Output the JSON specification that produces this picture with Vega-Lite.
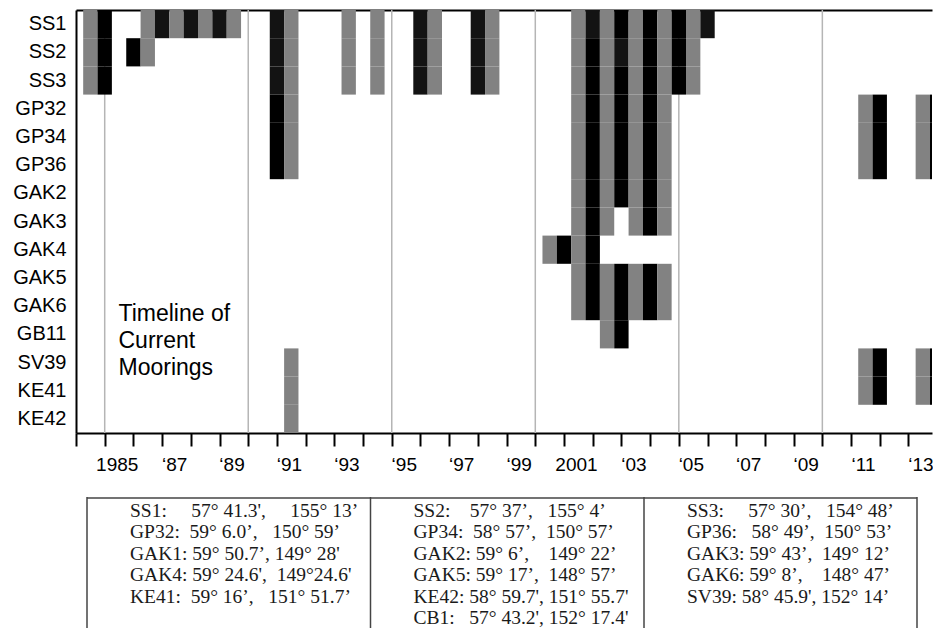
{
  "$schema": "https://vega.github.io/schema/vega-lite/v6.json",
  "padding": {"left": 12, "top": 9, "right": 0, "bottom": 0},
  "background": "white",
  "config": {"view": {"stroke": null}, "axis": {"grid": false}},
  "bounds": "flush",
  "spacing": 64,
  "vconcat": [
    {
      "width": 856,
      "height": 423,
      "layer": [
        {
          "data": {"values": [{"yr": 1985}, {"yr": 1990}, {"yr": 1995}, {"yr": 2000}, {"yr": 2005}, {"yr": 2010}]},
          "mark": {"type": "rule", "color": "#b5b5b5", "strokeWidth": 1.5},
          "encoding": {
            "x": {
              "field": "yr", "type": "quantitative",
              "scale": {"domain": [1984, 2013.82], "nice": false, "zero": false},
              "axis": {"orient": "top", "labels": false, "ticks": false, "domain": true, "domainColor": "#000", "domainWidth": 2, "title": null, "grid": false}
            }
          }
        },
        {
          "data": {"values": [
            {"m": "SS1", "s": 1984.25, "e": 1984.75, "c": "g"},
            {"m": "SS1", "s": 1984.75, "e": 1985.25, "c": "k"},
            {"m": "SS1", "s": 1986.25, "e": 1986.75, "c": "g"},
            {"m": "SS1", "s": 1986.75, "e": 1987.25, "c": "d"},
            {"m": "SS1", "s": 1987.25, "e": 1987.75, "c": "g"},
            {"m": "SS1", "s": 1987.75, "e": 1988.25, "c": "d"},
            {"m": "SS1", "s": 1988.25, "e": 1988.75, "c": "g"},
            {"m": "SS1", "s": 1988.75, "e": 1989.25, "c": "d"},
            {"m": "SS1", "s": 1989.25, "e": 1989.75, "c": "g"},
            {"m": "SS1", "s": 1990.75, "e": 1991.25, "c": "d"},
            {"m": "SS1", "s": 1991.25, "e": 1991.75, "c": "g"},
            {"m": "SS1", "s": 1993.25, "e": 1993.75, "c": "g"},
            {"m": "SS1", "s": 1994.25, "e": 1994.75, "c": "g"},
            {"m": "SS1", "s": 1995.75, "e": 1996.25, "c": "d"},
            {"m": "SS1", "s": 1996.25, "e": 1996.75, "c": "g"},
            {"m": "SS1", "s": 1997.75, "e": 1998.25, "c": "d"},
            {"m": "SS1", "s": 1998.25, "e": 1998.75, "c": "g"},
            {"m": "SS1", "s": 2001.25, "e": 2001.75, "c": "g"},
            {"m": "SS1", "s": 2001.75, "e": 2002.25, "c": "d"},
            {"m": "SS1", "s": 2002.25, "e": 2002.75, "c": "g"},
            {"m": "SS1", "s": 2002.75, "e": 2003.25, "c": "k"},
            {"m": "SS1", "s": 2003.25, "e": 2003.75, "c": "g"},
            {"m": "SS1", "s": 2003.75, "e": 2004.25, "c": "k"},
            {"m": "SS1", "s": 2004.25, "e": 2004.75, "c": "g"},
            {"m": "SS1", "s": 2004.75, "e": 2005.25, "c": "k"},
            {"m": "SS1", "s": 2005.25, "e": 2005.75, "c": "g"},
            {"m": "SS1", "s": 2005.75, "e": 2006.25, "c": "d"},

            {"m": "SS2", "s": 1984.25, "e": 1984.75, "c": "g"},
            {"m": "SS2", "s": 1984.75, "e": 1985.25, "c": "k"},
            {"m": "SS2", "s": 1985.75, "e": 1986.25, "c": "k"},
            {"m": "SS2", "s": 1986.25, "e": 1986.75, "c": "g"},
            {"m": "SS2", "s": 1990.75, "e": 1991.25, "c": "d"},
            {"m": "SS2", "s": 1991.25, "e": 1991.75, "c": "g"},
            {"m": "SS2", "s": 1993.25, "e": 1993.75, "c": "g"},
            {"m": "SS2", "s": 1994.25, "e": 1994.75, "c": "g"},
            {"m": "SS2", "s": 1995.75, "e": 1996.25, "c": "d"},
            {"m": "SS2", "s": 1996.25, "e": 1996.75, "c": "g"},
            {"m": "SS2", "s": 1997.75, "e": 1998.25, "c": "d"},
            {"m": "SS2", "s": 1998.25, "e": 1998.75, "c": "g"},
            {"m": "SS2", "s": 2001.25, "e": 2001.75, "c": "g"},
            {"m": "SS2", "s": 2001.75, "e": 2002.25, "c": "k"},
            {"m": "SS2", "s": 2002.25, "e": 2002.75, "c": "g"},
            {"m": "SS2", "s": 2002.75, "e": 2003.25, "c": "d"},
            {"m": "SS2", "s": 2003.25, "e": 2003.75, "c": "g"},
            {"m": "SS2", "s": 2003.75, "e": 2004.25, "c": "k"},
            {"m": "SS2", "s": 2004.25, "e": 2004.75, "c": "g"},
            {"m": "SS2", "s": 2004.75, "e": 2005.25, "c": "k"},
            {"m": "SS2", "s": 2005.25, "e": 2005.75, "c": "g"},

            {"m": "SS3", "s": 1984.25, "e": 1984.75, "c": "g"},
            {"m": "SS3", "s": 1984.75, "e": 1985.25, "c": "k"},
            {"m": "SS3", "s": 1990.75, "e": 1991.25, "c": "d"},
            {"m": "SS3", "s": 1991.25, "e": 1991.75, "c": "g"},
            {"m": "SS3", "s": 1993.25, "e": 1993.75, "c": "g"},
            {"m": "SS3", "s": 1994.25, "e": 1994.75, "c": "g"},
            {"m": "SS3", "s": 1995.75, "e": 1996.25, "c": "d"},
            {"m": "SS3", "s": 1996.25, "e": 1996.75, "c": "g"},
            {"m": "SS3", "s": 1997.75, "e": 1998.25, "c": "d"},
            {"m": "SS3", "s": 1998.25, "e": 1998.75, "c": "g"},
            {"m": "SS3", "s": 2001.25, "e": 2001.75, "c": "g"},
            {"m": "SS3", "s": 2001.75, "e": 2002.25, "c": "k"},
            {"m": "SS3", "s": 2002.25, "e": 2002.75, "c": "g"},
            {"m": "SS3", "s": 2002.75, "e": 2003.25, "c": "k"},
            {"m": "SS3", "s": 2003.25, "e": 2003.75, "c": "g"},
            {"m": "SS3", "s": 2003.75, "e": 2004.25, "c": "k"},
            {"m": "SS3", "s": 2004.25, "e": 2004.75, "c": "g"},
            {"m": "SS3", "s": 2004.75, "e": 2005.25, "c": "k"},
            {"m": "SS3", "s": 2005.25, "e": 2005.75, "c": "g"},

            {"m": "GP32", "s": 1990.75, "e": 1991.25, "c": "k"},
            {"m": "GP32", "s": 1991.25, "e": 1991.75, "c": "g"},
            {"m": "GP32", "s": 2001.25, "e": 2001.75, "c": "g"},
            {"m": "GP32", "s": 2001.75, "e": 2002.25, "c": "k"},
            {"m": "GP32", "s": 2002.25, "e": 2002.75, "c": "g"},
            {"m": "GP32", "s": 2002.75, "e": 2003.25, "c": "k"},
            {"m": "GP32", "s": 2003.25, "e": 2003.75, "c": "g"},
            {"m": "GP32", "s": 2003.75, "e": 2004.25, "c": "k"},
            {"m": "GP32", "s": 2004.25, "e": 2004.75, "c": "g"},
            {"m": "GP32", "s": 2011.25, "e": 2011.75, "c": "g"},
            {"m": "GP32", "s": 2011.75, "e": 2012.25, "c": "k"},
            {"m": "GP32", "s": 2013.25, "e": 2013.75, "c": "g"},
            {"m": "GP32", "s": 2013.75, "e": 2014.25, "c": "k"},

            {"m": "GP34", "s": 1990.75, "e": 1991.25, "c": "k"},
            {"m": "GP34", "s": 1991.25, "e": 1991.75, "c": "g"},
            {"m": "GP34", "s": 2001.25, "e": 2001.75, "c": "g"},
            {"m": "GP34", "s": 2001.75, "e": 2002.25, "c": "k"},
            {"m": "GP34", "s": 2002.25, "e": 2002.75, "c": "g"},
            {"m": "GP34", "s": 2002.75, "e": 2003.25, "c": "k"},
            {"m": "GP34", "s": 2003.25, "e": 2003.75, "c": "g"},
            {"m": "GP34", "s": 2003.75, "e": 2004.25, "c": "k"},
            {"m": "GP34", "s": 2004.25, "e": 2004.75, "c": "g"},
            {"m": "GP34", "s": 2011.25, "e": 2011.75, "c": "g"},
            {"m": "GP34", "s": 2011.75, "e": 2012.25, "c": "k"},
            {"m": "GP34", "s": 2013.25, "e": 2013.75, "c": "g"},
            {"m": "GP34", "s": 2013.75, "e": 2014.25, "c": "k"},

            {"m": "GP36", "s": 1990.75, "e": 1991.25, "c": "k"},
            {"m": "GP36", "s": 1991.25, "e": 1991.75, "c": "g"},
            {"m": "GP36", "s": 2001.25, "e": 2001.75, "c": "g"},
            {"m": "GP36", "s": 2001.75, "e": 2002.25, "c": "k"},
            {"m": "GP36", "s": 2002.25, "e": 2002.75, "c": "g"},
            {"m": "GP36", "s": 2002.75, "e": 2003.25, "c": "k"},
            {"m": "GP36", "s": 2003.25, "e": 2003.75, "c": "g"},
            {"m": "GP36", "s": 2003.75, "e": 2004.25, "c": "k"},
            {"m": "GP36", "s": 2004.25, "e": 2004.75, "c": "g"},
            {"m": "GP36", "s": 2011.25, "e": 2011.75, "c": "g"},
            {"m": "GP36", "s": 2011.75, "e": 2012.25, "c": "k"},
            {"m": "GP36", "s": 2013.25, "e": 2013.75, "c": "g"},
            {"m": "GP36", "s": 2013.75, "e": 2014.25, "c": "k"},

            {"m": "GAK2", "s": 2001.25, "e": 2001.75, "c": "g"},
            {"m": "GAK2", "s": 2001.75, "e": 2002.25, "c": "k"},
            {"m": "GAK2", "s": 2002.25, "e": 2002.75, "c": "g"},
            {"m": "GAK2", "s": 2002.75, "e": 2003.25, "c": "k"},
            {"m": "GAK2", "s": 2003.25, "e": 2003.75, "c": "g"},
            {"m": "GAK2", "s": 2003.75, "e": 2004.25, "c": "k"},
            {"m": "GAK2", "s": 2004.25, "e": 2004.75, "c": "g"},

            {"m": "GAK3", "s": 2001.25, "e": 2001.75, "c": "g"},
            {"m": "GAK3", "s": 2001.75, "e": 2002.25, "c": "k"},
            {"m": "GAK3", "s": 2002.25, "e": 2002.75, "c": "g"},
            {"m": "GAK3", "s": 2003.25, "e": 2003.75, "c": "g"},
            {"m": "GAK3", "s": 2003.75, "e": 2004.25, "c": "k"},
            {"m": "GAK3", "s": 2004.25, "e": 2004.75, "c": "g"},

            {"m": "GAK4", "s": 2000.25, "e": 2000.75, "c": "g"},
            {"m": "GAK4", "s": 2000.75, "e": 2001.25, "c": "k"},
            {"m": "GAK4", "s": 2001.25, "e": 2001.75, "c": "g"},
            {"m": "GAK4", "s": 2001.75, "e": 2002.25, "c": "k"},

            {"m": "GAK5", "s": 2001.25, "e": 2001.75, "c": "g"},
            {"m": "GAK5", "s": 2001.75, "e": 2002.25, "c": "k"},
            {"m": "GAK5", "s": 2002.25, "e": 2002.75, "c": "g"},
            {"m": "GAK5", "s": 2002.75, "e": 2003.25, "c": "k"},
            {"m": "GAK5", "s": 2003.25, "e": 2003.75, "c": "g"},
            {"m": "GAK5", "s": 2003.75, "e": 2004.25, "c": "k"},
            {"m": "GAK5", "s": 2004.25, "e": 2004.75, "c": "g"},

            {"m": "GAK6", "s": 2001.25, "e": 2001.75, "c": "g"},
            {"m": "GAK6", "s": 2001.75, "e": 2002.25, "c": "k"},
            {"m": "GAK6", "s": 2002.25, "e": 2002.75, "c": "g"},
            {"m": "GAK6", "s": 2002.75, "e": 2003.25, "c": "k"},
            {"m": "GAK6", "s": 2003.25, "e": 2003.75, "c": "g"},
            {"m": "GAK6", "s": 2003.75, "e": 2004.25, "c": "k"},
            {"m": "GAK6", "s": 2004.25, "e": 2004.75, "c": "g"},

            {"m": "GB11", "s": 2002.25, "e": 2002.75, "c": "g"},
            {"m": "GB11", "s": 2002.75, "e": 2003.25, "c": "k"},

            {"m": "SV39", "s": 1991.25, "e": 1991.75, "c": "g"},
            {"m": "SV39", "s": 2011.25, "e": 2011.75, "c": "g"},
            {"m": "SV39", "s": 2011.75, "e": 2012.25, "c": "k"},
            {"m": "SV39", "s": 2013.25, "e": 2013.75, "c": "g"},
            {"m": "SV39", "s": 2013.75, "e": 2014.25, "c": "k"},

            {"m": "KE41", "s": 1991.25, "e": 1991.75, "c": "g"},
            {"m": "KE41", "s": 2011.25, "e": 2011.75, "c": "g"},
            {"m": "KE41", "s": 2011.75, "e": 2012.25, "c": "k"},
            {"m": "KE41", "s": 2013.25, "e": 2013.75, "c": "g"},
            {"m": "KE41", "s": 2013.75, "e": 2014.25, "c": "k"},

            {"m": "KE42", "s": 1991.25, "e": 1991.75, "c": "g"}
          ]},
          "mark": {"type": "rect", "clip": true},
          "encoding": {
            "x": {
              "field": "s", "type": "quantitative",
              "axis": {
                "orient": "bottom",
                "values": [1984, 1985, 1986, 1987, 1988, 1989, 1990, 1991, 1992, 1993, 1994, 1995, 1996, 1997, 1998, 1999, 2000, 2001, 2002, 2003, 2004, 2005, 2006, 2007, 2008, 2009, 2010, 2011, 2012, 2013],
                "format": "d",
                "labelExpr": "datum.value % 2 == 1 ? ((datum.value == 1985 || datum.value == 2001) ? datum.label : '‘' + slice(datum.label, 2)) : ''",
                "labelOffset": 12,
                "labelFontSize": 19,
                "labelFont": "Liberation Sans",
                "labelColor": "#000",
                "labelPadding": 9,
                "labelOverlap": false,
                "labelFlush": false,
                "labelBound": false,
                "tickSize": 13,
                "tickWidth": 2,
                "tickColor": "#000",
                "domainColor": "#000",
                "domainWidth": 2,
                "title": null,
                "grid": false
              }
            },
            "x2": {"field": "e"},
            "y": {
              "field": "m", "type": "nominal",
              "scale": {"domain": ["SS1", "SS2", "SS3", "GP32", "GP34", "GP36", "GAK2", "GAK3", "GAK4", "GAK5", "GAK6", "GB11", "SV39", "KE41", "KE42"], "paddingInner": 0, "paddingOuter": 0},
              "axis": {"title": null, "ticks": false, "domain": true, "domainColor": "#000", "domainWidth": 2, "labelFontSize": 20, "labelFont": "Liberation Sans", "labelColor": "#000", "labelPadding": 10}
            },
            "color": {
              "field": "c", "type": "nominal",
              "scale": {"domain": ["g", "k", "d"], "range": ["#828282", "#000000", "#131313"]},
              "legend": null
            }
          }
        },
        {
          "data": {"values": [{"t": "Timeline of\nCurrent\nMoorings"}]},
          "mark": {"type": "text", "align": "left", "baseline": "middle", "fontSize": 23, "lineHeight": 27, "font": "Liberation Sans", "lineBreak": "\n", "dy": -20, "color": "#000"},
          "encoding": {
            "x": {"datum": 1985.48, "type": "quantitative", "axis": null},
            "y": {"datum": "GB11", "type": "nominal"},
            "text": {"field": "t"}
          }
        }
      ],
      "resolve": {"axis": {"x": "independent"}}
    },
    {
      "width": 856,
      "height": 131,
      "layer": [
        {
          "data": {"values": [{"b": 0}, {"b": 1}, {"b": 2}, {"b": 3}]},
          "mark": {"type": "rule", "color": "#444", "strokeWidth": 1.5},
          "encoding": {
            "x": {"field": "b", "type": "quantitative", "scale": {"domain": [0, 1, 2, 3], "range": [11, 294.5, 568, 841], "nice": false, "zero": false}, "axis": null}
          }
        },
        {
          "data": {"values": [{"a": 0}]},
          "mark": {"type": "rule", "color": "#444", "strokeWidth": 1.5},
          "encoding": {
            "x": {"datum": 0, "type": "quantitative"},
            "x2": {"datum": 3},
            "y": {"datum": -0.89, "type": "quantitative", "scale": {"domain": [0, 5], "range": [20, 127], "nice": false, "zero": false}, "axis": null}
          }
        },
        {
          "data": {"values": [
            {"box": 0, "line": 0, "t": "SS1:\u00a0\u00a0\u00a0\u00a0\u00a057° 41.3',\u00a0\u00a0\u00a0\u00a0\u00a0155° 13’"},
            {"box": 0, "line": 1, "t": "GP32:\u00a0\u00a059° 6.0’,\u00a0\u00a0\u00a0150° 59’"},
            {"box": 0, "line": 2, "t": "GAK1:\u00a059° 50.7’,\u00a0149° 28'"},
            {"box": 0, "line": 3, "t": "GAK4:\u00a059° 24.6',\u00a0\u00a0149°24.6'"},
            {"box": 0, "line": 4, "t": "KE41:\u00a0\u00a059° 16’,\u00a0\u00a0\u00a0151° 51.7’"},
            {"box": 1, "line": 0, "t": "SS2:\u00a0\u00a0\u00a0\u00a057° 37’,\u00a0\u00a0\u00a0155° 4’"},
            {"box": 1, "line": 1, "t": "GP34:\u00a0\u00a058° 57’,\u00a0\u00a0150° 57’"},
            {"box": 1, "line": 2, "t": "GAK2:\u00a059° 6’,\u00a0\u00a0\u00a0\u00a0149° 22’"},
            {"box": 1, "line": 3, "t": "GAK5:\u00a059° 17’,\u00a0\u00a0148° 57’"},
            {"box": 1, "line": 4, "t": "KE42:\u00a058° 59.7',\u00a0151° 55.7'"},
            {"box": 1, "line": 5, "t": "CB1:\u00a0\u00a0\u00a057° 43.2',\u00a0152° 17.4'"},
            {"box": 2, "line": 0, "t": "SS3:\u00a0\u00a0\u00a0\u00a0\u00a057° 30’,\u00a0\u00a0\u00a0154° 48’"},
            {"box": 2, "line": 1, "t": "GP36:\u00a0\u00a0\u00a058° 49’,\u00a0\u00a0150° 53’"},
            {"box": 2, "line": 2, "t": "GAK3:\u00a059° 43’,\u00a0\u00a0149° 12’"},
            {"box": 2, "line": 3, "t": "GAK6:\u00a059° 8’,\u00a0\u00a0\u00a0\u00a0148° 47’"},
            {"box": 2, "line": 4, "t": "SV39:\u00a058° 45.9',\u00a0152° 14’"}
          ]},
          "mark": {"type": "text", "align": "left", "baseline": "alphabetic", "dx": 43, "font": "Liberation Serif", "fontSize": 19.5, "color": "#1a1a1a"},
          "encoding": {
            "x": {"field": "box", "type": "quantitative"},
            "y": {"field": "line", "type": "quantitative"},
            "text": {"field": "t"}
          }
        }
      ]
    }
  ]
}
